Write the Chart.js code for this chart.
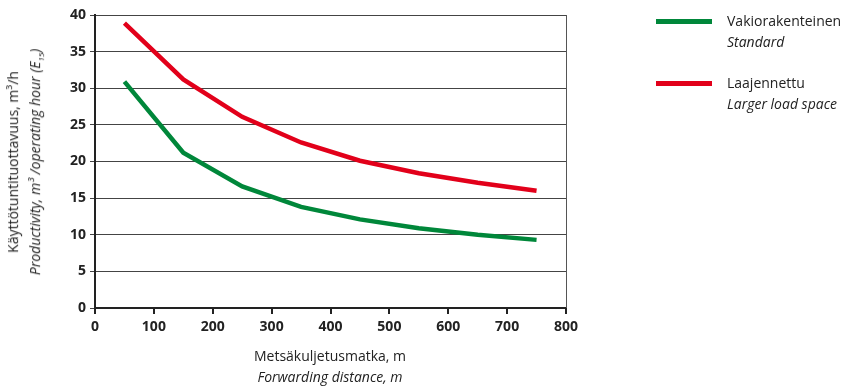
<!DOCTYPE html>
<html>
<head>
<meta charset="utf-8">
<title>Forwarding distance vs productivity</title>
<script src="https://cdn.jsdelivr.net/npm/chart.js"></script>
<style>
  body { margin: 0; background: #fff; font-family: "Open Sans", sans-serif; color: #222; }
  #wrap { position: relative; width: 846px; height: 389px; }
  canvas { position: absolute; left: 0; top: 0; }
  .lbl { position: absolute; white-space: nowrap; font-size: 14px; line-height: 21px; }
  .it { font-style: italic; }
  .ytitle { position: absolute; left: 27px; top: 162px; transform: translate(-50%, -50%) rotate(-90deg); text-align: center; font-size: 14px; line-height: 22px; white-space: nowrap; }
  .xtitle { position: absolute; left: 330px; top: 345px; transform: translateX(-50%); text-align: center; font-size: 14px; line-height: 21px; white-space: nowrap; }
  .swatch { position: absolute; width: 56px; height: 5px; }
</style>
</head>
<body>
<div id="wrap">
  <canvas id="chart" width="846" height="389"></canvas>
  <div class="ytitle">Käyttötuntituottavuus, m³/h<br><span class="it">Productivity, m³ /operating hour (E<sub style="font-size:8px">15</sub>)</span></div>
  <div class="xtitle">Metsäkuljetusmatka, m<br><span class="it">Forwarding distance, m</span></div>
  <div class="swatch" style="left:656px;top:19px;background:#00873a"></div>
  <div class="lbl" style="left:727px;top:10px">Vakiorakenteinen<br><span class="it">Standard</span></div>
  <div class="swatch" style="left:656px;top:81px;background:#e2001a"></div>
  <div class="lbl" style="left:727px;top:72px">Laajennettu<br><span class="it">Larger load space</span></div>
</div>
<script>
// metsäkuljetusmatka, m
const distances = [50, 150, 250, 350, 450, 550, 650, 750];
// käyttötuntituottavuus, m3/h
const standard = [30.9, 21.2, 16.6, 13.8, 12.1, 10.9, 10.0, 9.3];
const larger   = [38.9, 31.2, 26.1, 22.6, 20.1, 18.4, 17.1, 16.0];
const xTicks = [0, 100, 200, 300, 400, 500, 600, 700, 800];
const yTicks = [0, 5, 10, 15, 20, 25, 30, 35, 40];

const toPoints = vals => distances.map((d, i) => ({ x: d, y: vals[i] }));

const ctx = document.getElementById('chart').getContext('2d');
new Chart(ctx, {
  type: 'line',
  data: {
    datasets: [
      { label: 'Vakiorakenteinen', data: toPoints(standard), borderColor: '#00873a', borderWidth: 4.5, pointRadius: 0, tension: 0 },
      { label: 'Laajennettu', data: toPoints(larger), borderColor: '#e2001a', borderWidth: 4.5, pointRadius: 0, tension: 0 }
    ]
  },
  options: {
    responsive: false,
    animation: false,
    layout: { padding: { top: 15, right: 280, left: 0, bottom: 0 } },
    plugins: { legend: { display: false }, tooltip: { enabled: false } },
    scales: {
      x: {
        type: 'linear',
        min: 0, max: 800,
        afterBuildTicks: s => { s.ticks = xTicks.map(v => ({ value: v })); },
        afterFit: s => { s.height = 81; },
        ticks: { color: '#222', font: { family: 'Open Sans', size: 14, weight: 'bold' }, padding: 5, maxRotation: 0 },
        grid: { display: true, drawOnChartArea: false, color: '#222', tickLength: 6, lineWidth: 2 },
        border: { color: '#222', width: 2 }
      },
      y: {
        min: 0, max: 40,
        afterBuildTicks: s => { s.ticks = yTicks.map(v => ({ value: v })); },
        afterFit: s => { s.width = 95; },
        ticks: { color: '#222', font: { family: 'Open Sans', size: 14, weight: 'bold' }, padding: 4 },
        grid: { color: '#444', lineWidth: 1, tickLength: 5 },
        border: { color: '#222', width: 2 }
      }
    }
  },
  plugins: [{
    id: 'rightFrame',
    afterDraw(chart) {
      const a = chart.chartArea, c = chart.ctx;
      c.save();
      c.strokeStyle = '#555';
      c.lineWidth = 1;
      c.beginPath();
      c.moveTo(a.right + 0.5, a.top);
      c.lineTo(a.right + 0.5, a.bottom);
      c.stroke();
      c.restore();
    }
  }]
});
</script>
</body>
</html>
